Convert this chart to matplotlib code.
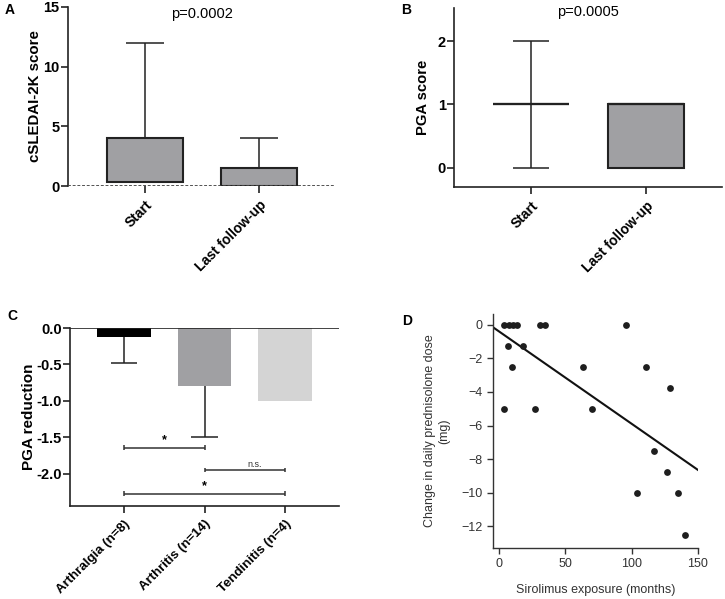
import numpy as np
import matplotlib
matplotlib.use('Agg')
import matplotlib.pyplot as plt

plt.rcParams['font.family'] = ['Liberation Sans', 'DejaVu Sans']

# A: cSLEDAI-2K score (box low / high, whisker max)
a_groups = ['Start', 'Last follow-up']
a_low = [0.3, 0.0]
a_high = [4.0, 1.5]
a_max = [12.0, 4.0]

# B: PGA score
b_groups = ['Start', 'Last follow-up']
b_low = [1.0, 0.0]
b_high = [1.0, 1.0]
b_min = [0.0, 0.0]
b_max = [2.0, 1.0]

# C: PGA reduction by group
c_groups = ['Arthralgia (n=8)', 'Arthritis (n=14)', 'Tendinitis (n=4)']
c_mean = [-0.13, -0.79, -1.0]
c_sd = [0.35, 0.70, 0.0]
c_colors = ['#000000', '#a0a0a3', '#d4d4d4']
c_sig_pairs = [(0, 1), (1, 2), (0, 2)]
c_sig_y = [-1.64, -1.95, -2.27]
c_sig_text = ['*', 'n.s.', '*']

# D: sirolimus exposure vs change in prednisolone dose
d_months = [3.8, 7.3, 10.8, 13.8, 3.8, 7.0, 10.0, 18.0, 27.0, 31.0, 35.0,
            63.0, 70.0, 96.0, 104.0, 111.0, 117.0, 129.0, 127.0, 135.0, 140.0]
d_change = [0, 0, 0, 0, -5.0, -1.25, -2.5, -1.25, -5.0, 0, 0,
            -2.5, -5.0, 0, -10.0, -2.5, -7.5, -3.75, -8.75, -10.0, -12.5]

W, H = 725, 599
fig = plt.figure(figsize=(W / 100, H / 100), dpi=100)


def box(l, t, r, b):
    return fig.add_axes([l / W, 1 - b / H, (r - l) / W, (b - t) / H])


dark = '#222222'
gray = '#a0a0a3'
bold = dict(fontsize=10, fontweight='bold')


def style_ticks(ax):
    ax.tick_params(direction='out', length=5, width=1.2, color=dark)
    ax.tick_params(axis='y', pad=1)


# ---- A
ax = box(68, 7, 335, 186)
x = np.arange(len(a_groups))
ax.bar(x, np.array(a_high) - np.array(a_low), bottom=a_low, width=0.667,
       color=gray, edgecolor=dark, linewidth=1.5, zorder=2)
ax.vlines(x, a_high, a_max, color=dark, linewidth=1.1, zorder=1)
ax.hlines(a_max, x - 0.17, x + 0.17, color=dark, linewidth=1.1)
ax.axhline(0, color='#444444', linestyle=(0, (1.6, 1.0)), linewidth=1.3, zorder=3)
ax.set_xlim(-0.675, 1.667)
ax.set_ylim(0, 15)
ax.set_yticks([0, 5, 10, 15])
for s in ['top', 'right', 'bottom']:
    ax.spines[s].set_visible(False)
ax.spines['left'].set_color(dark)
ax.spines['left'].set_linewidth(1.2)
style_ticks(ax)
ax.set_xticks(x)
ax.set_xticklabels(a_groups, rotation=45, ha='right', rotation_mode='anchor', **bold)
for lb in ax.get_yticklabels():
    lb.set_fontweight('bold')
    lb.set_fontsize(10.5)
ax.set_ylabel('cSLEDAI-2K score', labelpad=1, fontsize=10.8, fontweight='bold')
ax.text(0.5, 15, 'p=0.0002', ha='center', va='top', fontsize=10.5)

# ---- B
ax = box(454, 8, 722, 187)
x = np.arange(len(b_groups))
ax.bar(x, np.array(b_high) - np.array(b_low), bottom=b_low, width=0.66,
       color=gray, edgecolor=dark, linewidth=1.5, zorder=2)
ax.hlines(b_high, x - 0.33, x + 0.33, color=dark, linewidth=1.6, zorder=3)
ax.vlines(x, b_min, b_max, color=dark, linewidth=1.1, zorder=1)
ax.hlines(b_max, x - 0.16, x + 0.16, color=dark, linewidth=1.1)
ax.hlines(b_min, x - 0.16, x + 0.16, color=dark, linewidth=1.1)
ax.set_xlim(-0.67, 1.663)
ax.set_ylim(-0.3, 2.52)
ax.set_yticks([0, 1, 2])
for s in ['top', 'right']:
    ax.spines[s].set_visible(False)
for s in ['left', 'bottom']:
    ax.spines[s].set_color(dark)
    ax.spines[s].set_linewidth(1.2)
style_ticks(ax)
ax.set_xticks(x)
ax.set_xticklabels(b_groups, rotation=45, ha='right', rotation_mode='anchor', **bold)
for lb in ax.get_yticklabels():
    lb.set_fontweight('bold')
    lb.set_fontsize(10.5)
ax.set_ylabel('PGA score', labelpad=5, fontsize=10.6, fontweight='bold')
ax.text(0.5, 2.56, 'p=0.0005', ha='center', va='top', fontsize=10.5)

# ---- C
ax = box(70, 328, 339, 506)
x = np.arange(len(c_groups))
ax.bar(x, c_mean, width=0.67, color=c_colors, zorder=2)
lo = np.array(c_mean) - np.array(c_sd)
has_err = np.array(c_sd) > 0
ax.vlines(x[has_err], np.array(c_mean)[has_err], lo[has_err], color=dark, linewidth=1.1)
ax.hlines(lo[has_err], x[has_err] - 0.165, x[has_err] + 0.165, color=dark, linewidth=1.1)
ax.axhline(0, color=dark, linewidth=1.2, zorder=3)
for (i, j), yy, t in zip(c_sig_pairs, c_sig_y, c_sig_text):
    ax.hlines(yy, x[i], x[j], color='#333333', linewidth=1.1)
    ax.vlines([x[i], x[j]], yy - 0.03, yy + 0.03, color='#333333', linewidth=1.1)
    if t == '*':
        ax.text((x[i] + x[j]) / 2, yy + 0.02, t, ha='center', va='bottom',
                fontsize=9, fontweight='bold')
    else:
        ax.text((x[i] + x[j]) / 2 + 0.12, yy + 0.02, t, ha='center', va='bottom',
                fontsize=6.5, color='#333333')
ax.set_xlim(-0.67, 2.67)
ax.set_ylim(-2.44, 0)
yt = [0.0, -0.5, -1.0, -1.5, -2.0]
ax.set_yticks(yt)
ax.set_yticklabels(['%.1f' % v for v in yt], fontsize=10.5, fontweight='bold')
for s in ['top', 'right']:
    ax.spines[s].set_visible(False)
for s in ['left', 'bottom']:
    ax.spines[s].set_color(dark)
    ax.spines[s].set_linewidth(1.2)
style_ticks(ax)
ax.set_xticks(x)
ax.set_xticklabels(c_groups, rotation=45, ha='right', rotation_mode='anchor',
                   fontsize=9.5, fontweight='bold')
ax.set_ylabel('PGA reduction', labelpad=0, fontsize=11, fontweight='bold')

# ---- D
txt = '#333333'
ax = box(493, 314, 698, 548)
ax.scatter(d_months, d_change, s=24, color='#1e1e1e', zorder=3, linewidths=0)
k, c0 = np.polyfit(d_months, d_change, 1)
xl = np.array([-4.5, 150])
ax.plot(xl, k * xl + c0, color='#111111', linewidth=1.5)
ax.set_xlim(-4.5, 150)
ax.set_ylim(-13.3, 0.65)
ax.set_xticks([0, 50, 100, 150])
ax.set_yticks([0, -2, -4, -6, -8, -10, -12])
for s in ['top', 'right']:
    ax.spines[s].set_visible(False)
for s in ['left', 'bottom']:
    ax.spines[s].set_color(txt)
    ax.spines[s].set_linewidth(1.0)
ax.tick_params(direction='out', length=4, width=1.0, color=txt, labelcolor=txt,
               labelsize=9)
ax.set_xlabel('Sirolimus exposure (months)', fontsize=9, color=txt, labelpad=10)
ax.set_ylabel('Change in daily prednisolone dose\n(mg)', fontsize=9, color=txt,
              labelpad=8)

# panel letters
for letter, px, py in [('A', 10, 10), ('B', 406, 10), ('C', 12, 316), ('D', 407, 321)]:
    fig.text(px / W, 1 - py / H, letter, ha='center', va='center', **bold)

fig.savefig('out.png', dpi=100)
